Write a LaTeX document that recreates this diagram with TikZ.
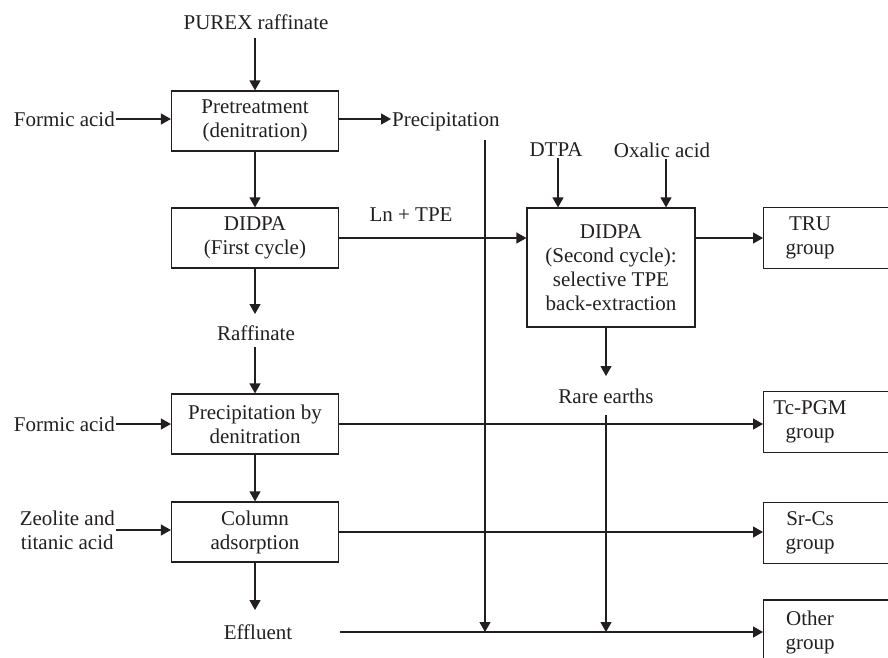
\documentclass[tikz,border=0pt]{standalone}
\usepackage{fontspec}
\setmainfont{Liberation Serif}
\usetikzlibrary{arrows.meta}
\definecolor{ink}{RGB}{35,31,32}
\newcommand\fs{\fontsize{21}{24}\selectfont}
\tikzset{
  box/.style={draw=ink, line width=1.2pt, minimum width=167pt, minimum height=60pt, align=center, inner sep=0pt, font=\fs, text=ink},
  rbox/.style={draw=ink, line width=1.2pt, minimum width=170pt, minimum height=61pt, inner sep=0pt},
  lbl/.style={align=center, inner sep=1pt, font=\fs, text=ink},
  arr/.style={draw=ink, line width=1.2pt, -{Triangle[length=10pt,width=11pt]}},
}
\begin{document}
\begin{tikzpicture}[x=1pt,y=-1pt]
\useasboundingbox (0,0) rectangle (888,657);
% left column
\node[lbl] (purex) at (256,22) {PUREX raffinate};
\node[box] (pre) at (255,121) {Pretreatment\\(denitration)};
\node[lbl, anchor=east] (fa1) at (116,119) {Formic acid};
\node[lbl, anchor=west] (prec) at (391,122) {Precipitation};
\node[box] (first) at (255,238) {DIDPA\\(First cycle)};
\node[lbl] (lntpe) at (411,215) {Ln + TPE};
\node[lbl] (raff) at (256,333) {Raffinate};
\node[box] (pbd) at (255,424) {Precipitation by\\denitration};
\node[lbl, anchor=east] (fa2) at (116,424) {Formic acid};
\node[box] (col) at (255,532) {Column\\adsorption};
\node[lbl, anchor=east] (zeo) at (116,530) {Zeolite and\\titanic acid};
\node[lbl] (eff) at (258,632) {Effluent};
% middle
\node[lbl] (dtpa) at (556,150) {DTPA};
\node[lbl] (oxa) at (662,150) {Oxalic acid};
\node[box, minimum width=168pt, minimum height=119pt] (sec) at (611,267.5) {DIDPA\\(Second cycle):\\selective TPE\\back-extraction};
\node[lbl] (rare) at (606,396) {Rare earths};
% right boxes
\node[rbox, anchor=west] (tru) at (763,238) {};
\node[lbl] (trut) at (810,238) {TRU\\group};
\node[rbox, anchor=west] (tc) at (763,422) {};
\node[lbl] (tct) at (810,422) {Tc-PGM\\group};
\node[rbox, anchor=west] (sr) at (763,533) {};
\node[lbl] (srt) at (810,533) {Sr-Cs\\group};
\node[rbox, anchor=west, minimum height=64pt] (oth) at (763,632) {};
\node[lbl] (otht) at (810,632) {Other\\group};
% helper coordinates
\coordinate (pv) at (485,140);
\coordinate (rv) at (606,415);
\coordinate (effs) at (340,632);
\coordinate (purexs) at (255,38);
\coordinate (raffin) at (255,314);
\coordinate (raffout) at (255,347);
\coordinate (effin) at (255,610);
\coordinate (rarein) at (606,376);
% connectors
\draw[arr] (purexs) -- (purexs |- pre.north);
\draw[arr] (fa1.east) -- (fa1.east -| pre.west);
\draw[arr] (pre.east |- fa1.east) -- (fa1.east -| prec.west);
\draw[arr] (pre.south) -- (first.north);
\draw[arr] (first.east) -- (first.east -| sec.west);
\draw[arr] (dtpa.south) ++(2,0) coordinate (dts) -- (dts |- sec.north);
\draw[arr] (oxa.south) ++(4,0) coordinate (oxs) -- (oxs |- sec.north);
\draw[arr] (first.east -| sec.east) -- (first.east -| tru.west);
\draw[arr] (first.south) -- (raffin);
\draw[arr] (raffout) -- (pbd.north);
\draw[arr] (sec.south -| rarein) -- (rarein);
\draw[arr] (fa2.east) -- (fa2.east -| pbd.west);
\draw[arr] (pbd.east) -- (pbd.east -| tc.west);
\draw[arr] (pbd.south) -- (col.north);
\draw[arr] (zeo.east) -- (zeo.east -| col.west);
\draw[arr] (col.east) -- (col.east -| sr.west);
\draw[arr] (col.south) -- (effin);
\draw[arr] (effs) -- (effs -| oth.west);
\draw[arr] (pv) -- (pv |- effs);
\draw[arr] (rv) -- (rv |- effs);
\end{tikzpicture}
\end{document}
